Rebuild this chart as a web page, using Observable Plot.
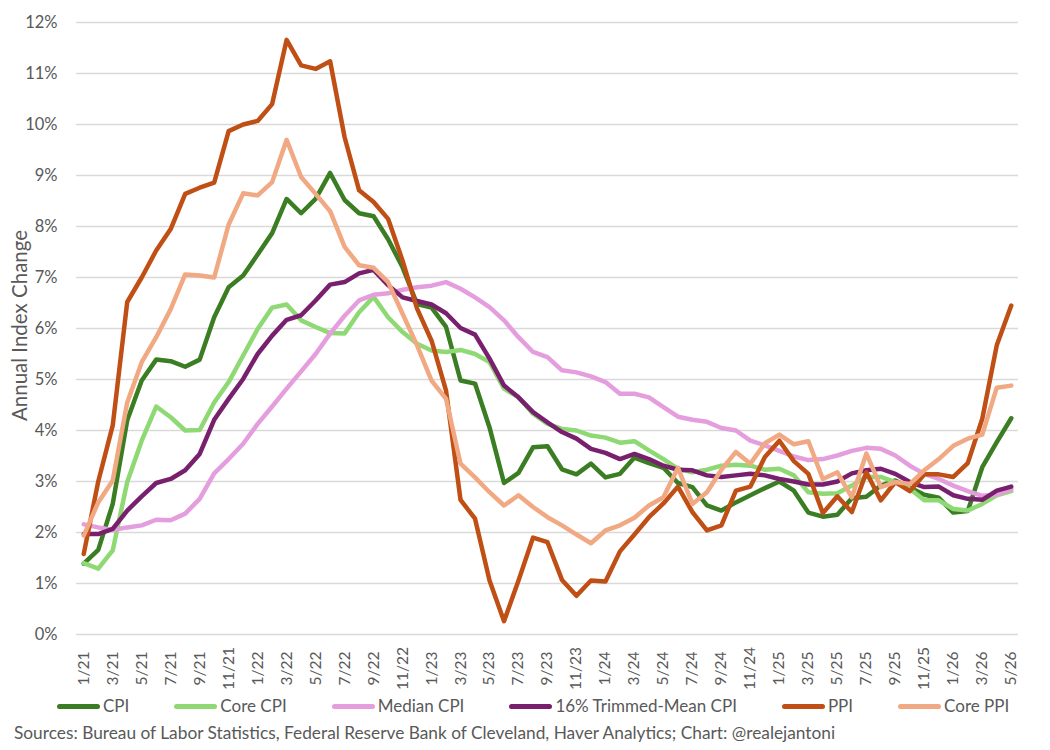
<!DOCTYPE html>
<html><head><meta charset="utf-8">
<script src="https://cdn.jsdelivr.net/npm/d3@7"></script>
<script src="https://cdn.jsdelivr.net/npm/@observablehq/plot@0.6"></script>
<style>
body{margin:0;background:#fff;font-family:Lato, sans-serif;}
#chart{position:relative;width:1050px;height:750px;overflow:hidden;}
#legend{position:absolute;top:695px;left:57px;display:flex;gap:45px;font-size:17px;line-height:22px;color:#595959;white-space:nowrap;}
.item{display:flex;align-items:center;}
.sw{width:43px;height:5px;border-radius:3px;margin-right:3px;}
#caption{position:absolute;top:722px;left:14px;font-size:17.3px;line-height:22px;color:#595959;white-space:nowrap;}
</style></head>
<body><div id="chart"><div id="plot"></div><div id="legend"></div><div id="caption"></div></div>
<script>
const months = ["1/21","2/21","3/21","4/21","5/21","6/21","7/21","8/21","9/21","10/21","11/21","12/21",
"1/22","2/22","3/22","4/22","5/22","6/22","7/22","8/22","9/22","10/22","11/22","12/22",
"1/23","2/23","3/23","4/23","5/23","6/23","7/23","8/23","9/23","10/23","11/23","12/23",
"1/24","2/24","3/24","4/24","5/24","6/24","7/24","8/24","9/24","10/24","11/24","12/24",
"1/25","2/25","3/25","4/25","5/25","6/25","7/25","8/25","9/25","10/25","11/25","12/25",
"1/26","2/26","3/26","4/26","5/26"];

const cpi = [1.39,1.66,2.56,4.2,4.98,5.39,5.36,5.25,5.39,6.22,6.81,7.04,
7.45,7.87,8.54,8.26,8.54,9.05,8.52,8.26,8.2,7.75,7.2,6.48,
6.41,6.03,4.98,4.92,4.06,2.97,3.17,3.67,3.69,3.24,3.14,3.35,
3.08,3.15,3.47,3.36,3.27,2.97,2.89,2.53,2.43,2.59,2.73,2.87,
3.0,2.82,2.39,2.31,2.35,2.67,2.7,2.92,3.02,2.88,2.74,2.68,
2.39,2.42,3.28,3.77,4.24];

const coreCpi = [1.4,1.29,1.65,2.99,3.8,4.47,4.26,4.0,4.01,4.55,4.95,5.47,
5.99,6.41,6.47,6.16,6.03,5.91,5.9,6.32,6.62,6.22,5.93,5.7,
5.57,5.54,5.58,5.5,5.34,4.82,4.65,4.33,4.13,4.03,4.0,3.9,
3.86,3.76,3.79,3.61,3.44,3.25,3.18,3.23,3.31,3.33,3.31,3.23,
3.25,3.12,2.79,2.76,2.77,2.92,3.09,3.09,2.99,2.86,2.63,2.63,
2.46,2.43,2.56,2.73,2.81];

const medianCpi = [2.16,2.1,2.05,2.1,2.14,2.25,2.24,2.37,2.66,3.16,3.44,3.74,
4.13,4.47,4.82,5.16,5.5,5.9,6.25,6.55,6.66,6.69,6.76,6.81,
6.84,6.91,6.78,6.61,6.42,6.16,5.83,5.54,5.44,5.18,5.14,5.06,
4.95,4.72,4.72,4.65,4.46,4.27,4.21,4.17,4.05,4.0,3.8,3.71,
3.6,3.49,3.42,3.44,3.51,3.6,3.66,3.64,3.51,3.31,3.15,3.05,
2.92,2.81,2.72,2.74,2.85];

const trimmedCpi = [1.97,1.97,2.07,2.43,2.71,2.97,3.05,3.22,3.54,4.21,4.62,5.01,
5.5,5.86,6.17,6.26,6.55,6.86,6.91,7.08,7.15,6.85,6.61,6.54,
6.47,6.3,6.01,5.88,5.41,4.88,4.65,4.36,4.16,3.97,3.84,3.64,
3.56,3.44,3.54,3.44,3.31,3.23,3.22,3.12,3.09,3.12,3.15,3.12,
3.05,3.0,2.94,2.94,3.0,3.16,3.22,3.25,3.15,2.99,2.89,2.9,
2.73,2.66,2.64,2.82,2.9];

const ppi = [1.58,3.0,4.1,6.52,7.0,7.53,7.95,8.64,8.76,8.86,9.87,10.0,
10.07,10.4,11.66,11.16,11.09,11.24,9.75,8.71,8.48,8.15,7.33,6.39,
5.76,4.78,2.64,2.27,1.06,0.26,1.06,1.9,1.81,1.07,0.76,1.06,
1.04,1.63,1.96,2.3,2.57,2.9,2.4,2.04,2.14,2.82,2.9,3.48,
3.8,3.4,3.15,2.38,2.71,2.4,3.18,2.63,2.99,2.81,3.14,3.14,
3.09,3.36,4.23,5.67,6.45];

const corePpi = [1.94,2.59,3.02,4.55,5.34,5.83,6.38,7.06,7.04,7.0,8.04,8.65,
8.61,8.87,9.7,8.97,8.64,8.3,7.6,7.24,7.19,6.91,6.29,5.67,
4.98,4.62,3.35,3.08,2.79,2.53,2.73,2.5,2.3,2.14,1.96,1.79,
2.04,2.14,2.29,2.53,2.69,3.27,2.56,2.79,3.23,3.58,3.35,3.75,
3.92,3.73,3.79,3.05,3.18,2.69,3.55,2.89,2.99,2.95,3.22,3.44,
3.7,3.84,3.92,4.84,4.88];

const seriesNames = ["CPI","Core CPI","Median CPI","16% Trimmed-Mean CPI","PPI","Core PPI"];
const seriesColors = ["#3A7D22","#8ED973","#E59EDD","#78206E","#C04F15","#F1A983"];
const seriesValues = [cpi, coreCpi, medianCpi, trimmedCpi, ppi, corePpi];
const yTicks = [0,1,2,3,4,5,6,7,8,9,10,11,12];
const xTicks = months.filter((d, i) => i % 2 === 0);
const yTitle = "Annual Index Change";
const sourceText = "Sources: Bureau of Labor Statistics, Federal Reserve Bank of Cleveland, Haver Analytics; Chart: @realejantoni";

const data = seriesNames.flatMap((name, s) =>
  months.map((m, i) => ({series: name, month: m, value: seriesValues[s][i]})));

const plot = Plot.plot({
  width: 1050, height: 692,
  marginTop: 22, marginLeft: 76, marginRight: 32, marginBottom: 58,
  style: {fontFamily: "Lato, sans-serif", fontSize: "16px", color: "#595959", background: "#fff", overflow: "visible"},
  x: {type: "point", domain: months, padding: 0.5},
  y: {domain: [0, 12]},
  color: {domain: seriesNames, range: seriesColors},
  marks: [
    Plot.gridY(yTicks, {stroke: "#d9d9d9", strokeOpacity: 1, strokeWidth: 1.4}),
    Plot.axisY(yTicks, {tickSize: 0, tickPadding: 19, tickFormat: d => d + "%", label: null, fill: "#595959", fontSize: 16.5}),
    Plot.axisX(xTicks, {tickSize: 0, tickRotate: -90, tickPadding: 34, textAnchor: "middle", label: null, fill: "#595959", fontSize: 15.5}),
    Plot.text([yTitle], {frameAnchor: "left", textAnchor: "middle", rotate: -90, dx: -56, dy: -3, fontSize: 20.5, fill: "#595959"}),
    Plot.line(data, {x: "month", y: "value", z: "series", stroke: "series", strokeWidth: 4.5, strokeLinejoin: "round", strokeLinecap: "round"})
  ]
});
document.getElementById("plot").appendChild(plot);

const legend = document.getElementById("legend");
seriesNames.forEach((n, i) => {
  const it = document.createElement("div"); it.className = "item";
  const sw = document.createElement("span"); sw.className = "sw"; sw.style.background = seriesColors[i];
  const lb = document.createElement("span"); lb.textContent = n;
  it.appendChild(sw); it.appendChild(lb); legend.appendChild(it);
});
document.getElementById("caption").textContent = sourceText;
</script>
</body></html>
